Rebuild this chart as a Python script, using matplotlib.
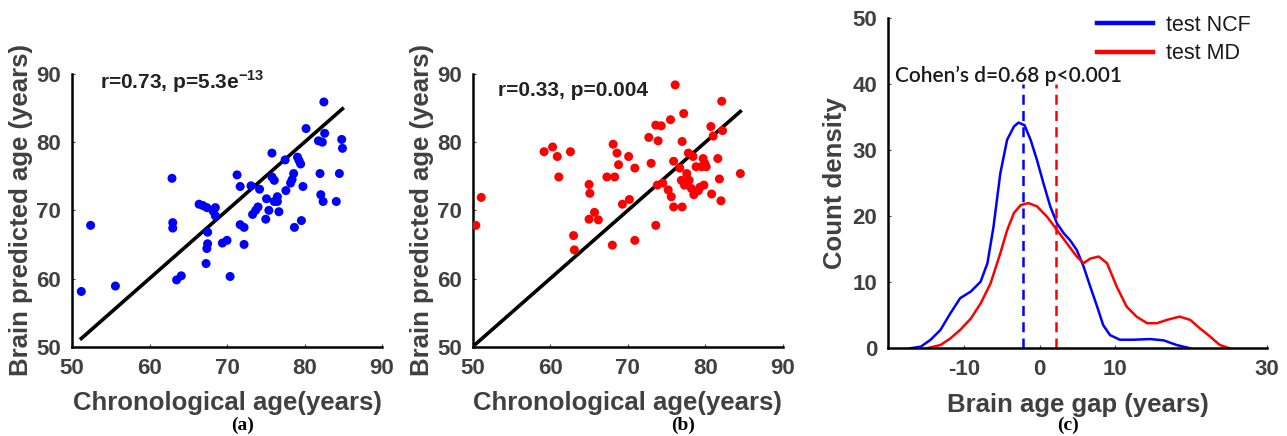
import numpy as np
import matplotlib
matplotlib.use('Agg')
import matplotlib.pyplot as plt

plt.rcParams['font.family'] = ['Liberation Sans', 'DejaVu Sans']
plt.rcParams['mathtext.fontset'] = 'custom'
plt.rcParams['mathtext.bf'] = 'Liberation Sans:bold'
plt.rcParams['mathtext.rm'] = 'Liberation Sans'
plt.rcParams['axes.unicode_minus'] = False

# (a) test NCF: chronological vs brain predicted age
ncf_chrono = [51.2, 52.4, 55.6, 62.9, 63.0, 63.0, 63.5, 64.1, 66.4, 66.9, 67.4, 67.5, 67.5,
              67.4, 67.3, 68.2, 68.5, 68.5, 69.4, 70.0, 70.4, 71.3, 71.7, 71.7, 72.2, 72.2,
              73.1, 73.3, 73.7, 74.0, 74.2, 75.0, 75.1, 75.4, 75.8, 75.8, 76.1, 76.1, 76.5,
              76.5, 76.7, 77.5, 77.6, 78.2, 78.4, 78.6, 78.7, 79.1, 79.3, 79.5, 79.6, 79.8,
              80.2, 81.8, 82.3, 82.0, 82.1, 82.4, 82.5, 82.6, 84.1, 84.5, 84.8, 84.9]
ncf_pred = [58.1, 67.8, 58.9, 74.7, 68.2, 67.4, 59.8, 60.4, 70.9, 70.7, 70.4, 66.8, 65.1,
            64.4, 62.2, 69.9, 70.4, 69.2, 65.2, 65.6, 60.3, 75.2, 73.5, 67.9, 67.5, 65.0,
            73.6, 69.4, 70.0, 70.5, 73.1, 68.7, 71.7, 70.0, 78.4, 74.9, 74.4, 71.3, 72.0,
            71.3, 69.8, 77.4, 72.9, 74.0, 74.5, 75.4, 67.5, 77.8, 77.3, 76.8, 68.5, 73.5,
            82.0, 80.2, 80.0, 75.4, 72.3, 71.3, 85.9, 81.3, 71.3, 75.4, 80.4, 79.1]

# (b) test MD
md_chrono = [50.4, 51.1, 59.2, 60.3, 60.9, 61.1, 62.6, 63.0, 63.1, 65.0, 65.1, 65.0, 65.7,
             66.2, 67.3, 68.1, 68.3, 68.0, 68.6, 68.8, 69.3, 70.1, 70.2, 70.9, 70.9, 72.7,
             73.0, 73.6, 74.3, 73.9, 73.6, 73.8, 74.5, 75.2, 75.5, 75.6, 75.9, 75.9, 76.1,
             76.7, 77.0, 77.0, 76.9, 77.2, 77.3, 77.6, 77.8, 77.9, 78.2, 78.4, 78.5, 78.8,
             79.1, 79.3, 79.5, 79.7, 79.9, 80.1, 79.8, 80.7, 81.0, 80.8, 81.6, 81.8, 82.0,
             82.1, 82.2, 84.5]
md_pred = [67.8, 71.9, 78.6, 79.3, 77.9, 74.9, 78.6, 66.3, 64.2, 73.8, 72.5, 68.7, 69.7,
           68.6, 74.9, 79.7, 74.9, 64.9, 78.4, 76.7, 70.9, 77.9, 71.6, 76.2, 65.6, 80.7,
           76.9, 82.5, 82.4, 80.2, 67.8, 73.7, 74.0, 73.0, 83.3, 72.0, 77.2, 70.5, 88.4,
           76.2, 80.1, 70.5, 74.4, 84.2, 73.7, 75.4, 78.4, 74.4, 73.2, 77.9, 72.3, 76.4,
           72.9, 73.4, 76.4, 77.6, 76.9, 76.4, 73.7, 82.3, 80.9, 72.4, 77.6, 74.6, 71.4,
           86.0, 81.7, 75.4]

# (c) brain age gap densities
ncf_gap_x = [-17.1, -15.7, -14.4, -13.1, -11.8, -10.5, -9.1, -7.8, -6.9, -6.1, -5.2, -4.3,
             -3.4, -2.8, -2.0, -1.2, -0.35, 0.5, 1.4, 2.3, 3.2, 4.0, 4.9, 5.8, 6.7, 7.6,
             8.4, 9.3, 10.6, 12.4, 14.6, 16.4, 18.1, 19.9]
ncf_gap_y = [0, 0.25, 1.3, 2.8, 5.3, 7.6, 8.6, 10.1, 12.9, 18.4, 26.5, 31.6, 33.6, 34.2,
             33.8, 31.6, 28.5, 25.0, 21.5, 18.9, 17.4, 16.4, 14.9, 12.4, 9.3, 6.3, 3.5, 2.0,
             1.3, 1.3, 1.4, 1.2, 0.5, 0]
md_gap_x = [-14.9, -13.1, -11.8, -10.5, -9.1, -7.8, -6.5, -5.2, -4.3, -3.4, -2.5, -1.5,
            -0.35, 1.0, 2.3, 3.6, 4.9, 5.8, 6.7, 7.8, 8.9, 10.2, 11.5, 12.8, 14.2, 15.5,
            16.8, 18.5, 19.9, 21.2, 22.5, 23.8, 25.1]
md_gap_y = [0, 0.5, 1.5, 2.8, 4.5, 6.8, 9.8, 14.4, 17.9, 20.5, 21.7, 22.0, 21.5, 19.9,
            17.9, 15.9, 13.9, 12.9, 13.6, 13.9, 12.9, 9.3, 6.3, 4.8, 3.8, 3.8, 4.3, 4.8,
            4.3, 3.0, 1.8, 0.5, 0]
ncf_mean_gap = -2.2
md_mean_gap = 2.15

tick_col = '#404040'

fig = plt.figure(figsize=(12.87, 4.36), dpi=100)
W, H = 1287, 436


def style(ax):
    for s in ['top', 'right']:
        ax.spines[s].set_visible(False)
    for s in ['left', 'bottom']:
        ax.spines[s].set_linewidth(1.8)
        ax.spines[s].set_color('black')
    ax.tick_params(direction='in', length=2, width=0.8, colors=tick_col,
                   labelsize=16, pad=8)
    for lab in ax.get_xticklabels() + ax.get_yticklabels():
        lab.set_fontweight('bold')


def scatter_panel(rect, xs, ys, color, note):
    ax = fig.add_axes(rect)
    ax.scatter(xs, ys, s=42, color=color, edgecolors='none', zorder=3)
    lo, hi = min(xs), max(xs)
    ax.plot([lo, hi], [lo, hi], color='black', lw=2.6, zorder=2)
    ax.set_xlim(50, 90)
    ax.set_ylim(50, 90)
    ax.set_xticks([50, 60, 70, 80, 90])
    ax.set_yticks([50, 60, 70, 80, 90])
    style(ax)
    ax.set_xlabel('Chronological age(years)', fontsize=18.5, fontweight='bold',
                  color=tick_col, labelpad=9)
    ax.set_ylabel('Brain predicted age (years)', fontsize=18.5, fontweight='bold',
                  color=tick_col, labelpad=2)
    ax.text(note[0], note[1], note[2], fontsize=15, fontweight='bold',
            color='#222222', va='baseline')
    return ax


ax_a = scatter_panel([72 / W, 1 - 346.7 / H, 310 / W, 272.7 / H], ncf_chrono, ncf_pred,
                     'blue', (53.6, 87.9, r'r=0.73, p=5.3e$^{\mathbf{-13}}$'))
ax_b = scatter_panel([472.7 / W, 1 - 346.7 / H, 310.3 / W, 272.7 / H], md_chrono, md_pred,
                     'red', (53.2, 86.8, 'r=0.33, p=0.004'))

ax_c = fig.add_axes([888.3 / W, 1 - 348.3 / H, 378.4 / W, 330 / H])
ax_c.plot(ncf_gap_x, ncf_gap_y, color='blue', lw=1.8, label='test NCF')
ax_c.plot(md_gap_x, md_gap_y, color='red', lw=1.8, label='test MD')
ax_c.plot([ncf_mean_gap, ncf_mean_gap], [0, 40], color='blue', lw=1.8, dashes=(4, 2.5))
ax_c.plot([md_mean_gap, md_mean_gap], [0, 40], color='red', lw=1.8, dashes=(4, 2.5))
ax_c.set_xlim(-20, 30)
ax_c.set_ylim(0, 50)
ax_c.set_xticks([-10, 0, 10, 30])
ax_c.set_yticks([0, 10, 20, 30, 40, 50])
style(ax_c)
ax_c.set_xlabel('Brain age gap (years)', fontsize=18.5, fontweight='bold',
                color=tick_col, labelpad=9)
ax_c.set_ylabel('Count density', fontsize=18.5, fontweight='bold',
                color=tick_col, labelpad=4)
ax_c.text(-19.1, 40.4, 'Cohen\u2019s d=0.68 p<0.001', fontsize=15, family='Lato',
          fontweight='semibold', color='#1a1a1a', va='baseline')
leg = ax_c.legend(loc='upper left', bbox_to_anchor=(0.50, 1.07), frameon=False,
                  fontsize=15.5, handlelength=2.6, handletextpad=0.6, labelspacing=0.35)
for line in leg.get_lines():
    line.set_linewidth(3.2)
for t in leg.get_texts():
    t.set_color('#1a1a1a')

for label, xc in [('(a)', 243), ('(b)', 683), ('(c)', 1068)]:
    fig.text(xc / W, 1 - 425 / H, label, fontsize=14, fontweight='bold',
             family='Liberation Serif', ha='center', va='center')

fig.savefig('out.png', dpi=100)
